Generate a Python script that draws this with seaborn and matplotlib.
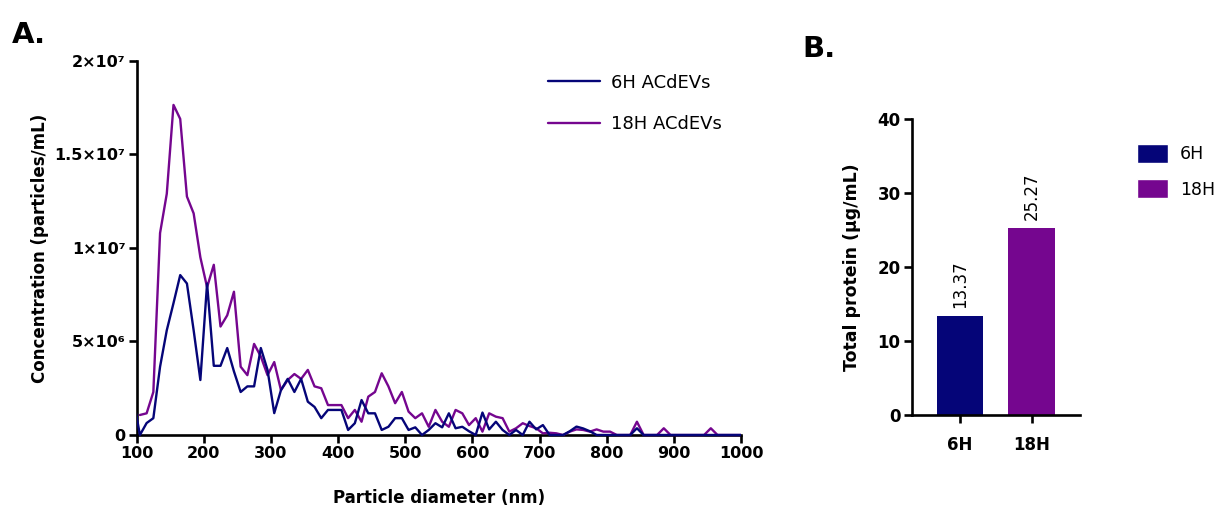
import numpy as np
import pandas as pd
import matplotlib
matplotlib.use("Agg")
import matplotlib.pyplot as plt
from matplotlib.patches import Patch
from matplotlib.lines import Line2D
from matplotlib.transforms import Bbox, TransformedBbox
import seaborn as sns

# ---- Panel A: NTA size distribution (10 nm bins, centres 95 ... 1005 nm) ----
diameter_nm = np.arange(95, 1006, 10)

conc_6h_millions = [
    2.0, 0.0, 0.64, 0.9, 3.65, 5.6, 7.05, 8.55, 8.1, 5.6,
    2.94, 8.1, 3.7, 3.7, 4.65, 3.4, 2.3, 2.6, 2.6, 4.65,
    3.48, 1.17, 2.4, 3.0, 2.3, 3.0, 1.78, 1.5, 0.9, 1.34,
    1.34, 1.34, 0.27, 0.63, 1.87, 1.16, 1.16, 0.27, 0.44, 0.9,
    0.9, 0.27, 0.41, 0.0, 0.27, 0.63, 0.41, 1.16, 0.36, 0.44,
    0.2, 0.0, 1.2, 0.3, 0.71, 0.27, 0.0, 0.27, 0.0, 0.71,
    0.3, 0.53, 0.0, 0.0, 0.0, 0.2, 0.45, 0.35, 0.2, 0.0,
    0.0, 0.0, 0.0, 0.0, 0.0, 0.36, 0.0, 0.0, 0.0, 0.0,
    0.0, 0.0, 0.0, 0.0, 0.0, 0.0, 0.0, 0.0, 0.0, 0.0,
    0.0, 0.0,
]

conc_18h_millions = [
    np.nan, 1.07, 1.16, 2.3, 10.8, 12.9, 17.65, 16.9, 12.75, 11.85,
    9.5, 7.9, 9.1, 5.8, 6.4, 7.66, 3.65, 3.2, 4.87, 4.2,
    3.2, 3.9, 2.4, 2.94, 3.26, 3.0, 3.48, 2.6, 2.5, 1.6,
    1.6, 1.6, 0.9, 1.34, 0.71, 2.05, 2.3, 3.3, 2.6, 1.7,
    2.3, 1.25, 0.9, 1.16, 0.44, 1.34, 0.71, 0.44, 1.34, 1.16,
    0.53, 0.9, 0.18, 1.16, 0.98, 0.9, 0.18, 0.36, 0.63, 0.48,
    0.36, 0.09, 0.12, 0.09, 0.0, 0.18, 0.3, 0.27, 0.18, 0.3,
    0.18, 0.18, 0.0, 0.0, 0.0, 0.71, 0.0, 0.0, 0.0, 0.36,
    0.0, 0.0, 0.0, 0.0, 0.0, 0.0, 0.36, 0.0, 0.0, 0.0,
    0.0, 0.0,
]

series_labels = ["6H ACdEVs", "18H ACdEVs"]
conc_yticks = [0, 5e6, 1e7, 1.5e7, 2e7]
conc_yticklabels = ["0", "5×10⁶", "1×10⁷", "1.5×10⁷", "2×10⁷"]
diam_xticks = [100, 200, 300, 400, 500, 600, 700, 800, 900, 1000]

# ---- Panel B: total protein ----
groups = ["6H", "18H"]
protein_ug_ml = [13.37, 25.27]

NAVY = "#050578"
PURPLE = "#75068f"

sns.set_theme(style="ticks")
plt.rcParams["font.family"] = ["DejaVu Sans"]
plt.rcParams["axes.linewidth"] = 1.9
for key in ("text.color", "axes.labelcolor", "xtick.color", "ytick.color", "axes.edgecolor"):
    plt.rcParams[key] = "black"

fig = plt.figure(figsize=(12.16, 5.08), dpi=100)
axA = fig.add_axes([0.1123, 0.1437, 0.4971, 0.7363])
axB = fig.add_axes([0.7497, 0.1831, 0.1384, 0.5827])

# ---------------- Panel A ----------------
nta = pd.DataFrame({
    "diameter": np.concatenate([diameter_nm, diameter_nm]),
    "conc": np.concatenate([np.array(conc_6h_millions) * 1e6,
                            np.array(conc_18h_millions) * 1e6]),
    "sample": [series_labels[0]] * len(diameter_nm) + [series_labels[1]] * len(diameter_nm),
})
sns.lineplot(data=nta, x="diameter", y="conc", hue="sample",
             palette={series_labels[0]: NAVY, series_labels[1]: PURPLE},
             hue_order=series_labels[::-1], linewidth=1.7, ax=axA, legend=False,
             estimator=None, sort=False)

axA.set_xlim(100, 1000)
axA.set_ylim(0, 2e7)
clip = TransformedBbox(Bbox([[100, -0.6e6], [1000, 2.1e7]]), axA.transData)
for ln in axA.get_lines():
    ln.set_clip_box(clip)
    ln.set_zorder(3)

axA.set_xticks(diam_xticks)
axA.set_xticklabels([str(v) for v in diam_xticks])
axA.set_yticks(conc_yticks)
axA.set_yticklabels(conc_yticklabels)
sns.despine(ax=axA)
axA.tick_params(axis="both", length=6, width=1.9, pad=2, labelsize=11.5, color="black")
for lab in axA.get_xticklabels() + axA.get_yticklabels():
    lab.set_fontweight("bold")

axA.set_xlabel("Particle diameter (nm)", fontsize=12, fontweight="bold")
axA.set_ylabel("Concentration (particles/mL)", fontsize=12, fontweight="bold")
axA.xaxis.set_label_coords(0.5, -0.145)
axA.yaxis.set_label_coords(-0.145, 0.5)

handlesA = [Line2D([], [], color=NAVY, lw=1.7), Line2D([], [], color=PURPLE, lw=1.7)]
axA.legend(handlesA, series_labels, loc="upper left", bbox_to_anchor=(0.668, 0.985),
           frameon=False, fontsize=13, handlelength=2.9, handletextpad=0.6,
           labelspacing=1.3, borderaxespad=0)

# ---------------- Panel B ----------------
prot = pd.DataFrame({"group": groups, "protein": protein_ug_ml})
sns.barplot(data=prot, x="group", y="protein", hue="group",
            palette={"6H": NAVY, "18H": PURPLE}, saturation=1,
            width=0.65, legend=False, ax=axB, edgecolor="none")
axB.set_xlim(-0.674, 1.674)
axB.set_ylim(0, 40)
axB.set_yticks([0, 10, 20, 30, 40])
sns.despine(ax=axB)
axB.tick_params(axis="both", length=6, width=1.9, pad=2, labelsize=12, color="black")
for lab in axB.get_xticklabels() + axB.get_yticklabels():
    lab.set_fontweight("bold")
axB.tick_params(axis="x", pad=9)
axB.set_xlabel("")
axB.set_ylabel("Total protein (μg/mL)", fontsize=12.5, fontweight="bold")
axB.yaxis.set_label_coords(-0.30, 0.5)

for cont in axB.containers:
    axB.bar_label(cont, labels=[f"{v:.2f}" for v in cont.datavalues],
                  rotation=90, padding=6, fontsize=12)

handlesB = [Patch(facecolor=NAVY), Patch(facecolor=PURPLE)]
axB.legend(handlesB, groups, loc="upper left", bbox_to_anchor=(1.30, 0.94),
           frameon=False, fontsize=12.5, handlelength=1.75, handleheight=1.3,
           handletextpad=0.7, labelspacing=0.95, borderaxespad=0)

# panel letters
fig.text(0.010, 0.915, "A.", fontsize=21, fontweight="bold", ha="left", va="baseline")
fig.text(0.660, 0.888, "B.", fontsize=21, fontweight="bold", ha="left", va="baseline")

fig.savefig("out.png", dpi=100)
